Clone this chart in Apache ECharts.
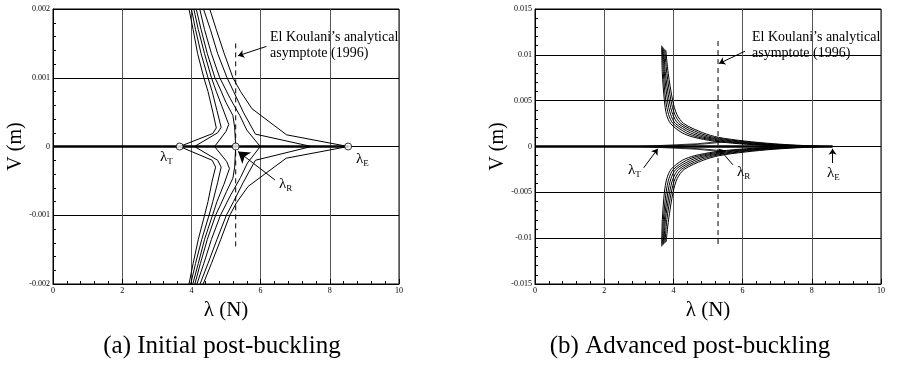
<!DOCTYPE html>
<html>
<head>
<meta charset="utf-8">
<script src="https://cdn.jsdelivr.net/npm/echarts@6/dist/echarts.min.js"></script>
<style>
  html, body { margin: 0; padding: 0; background: #fff; }
  #main { width: 901px; height: 373px; }
</style>
</head>
<body>
<div id="main"></div>
<script>
// tick values
var xTicks = [0, 2, 4, 6, 8, 10];
var leftYRange = [-0.002, 0.002];
var rightYRange = [-0.015, 0.015];

// (a) initial post-buckling, upper branches [lambda, V]
var leftUp1 = [[3.66, 0], [4.62, 0.19e-3], [4.72, 0.27e-3], [4.62, 0.5e-3], [4.48, 0.8e-3], [4.36, 1.0e-3], [4.18, 1.35e-3], [4.05, 1.7e-3], [3.93, 2.0e-3]];
var leftUp2 = [[4.09, 0], [4.76, 0.2e-3], [4.86, 0.28e-3], [4.74, 0.52e-3], [4.6, 0.8e-3], [4.48, 1.0e-3], [4.28, 1.35e-3], [4.12, 1.7e-3], [4.0, 2.0e-3]];
var leftUp3 = [[4.67, 0], [5.0, 0.22e-3], [5.08, 0.32e-3], [4.9, 0.56e-3], [4.72, 0.8e-3], [4.58, 1.0e-3], [4.38, 1.35e-3], [4.2, 1.7e-3], [4.07, 2.0e-3]];
var leftUp4 = [[5.28, 0], [5.25, 0.28e-3], [5.2, 0.45e-3], [5.0, 0.64e-3], [4.82, 0.85e-3], [4.68, 1.0e-3], [4.46, 1.35e-3], [4.28, 1.7e-3], [4.14, 2.0e-3]];
var leftUp5 = [[5.99, 0], [5.6, 0.24e-3], [5.4, 0.45e-3], [5.12, 0.7e-3], [4.82, 1.0e-3], [4.58, 1.35e-3], [4.38, 1.7e-3], [4.24, 2.0e-3]];
var leftUp6 = [[7.47, 0], [5.85, 0.18e-3], [5.5, 0.5e-3], [5.22, 0.8e-3], [5.03, 1.0e-3], [4.76, 1.35e-3], [4.55, 1.7e-3], [4.35, 2.0e-3]];
var leftUp7 = [[8.53, 0], [6.75, 0.17e-3], [5.75, 0.55e-3], [5.42, 0.8e-3], [5.2, 1.0e-3], [4.95, 1.35e-3], [4.72, 1.7e-3], [4.53, 2.0e-3]];
// (a) lower branches
var leftDn1 = [[3.66, 0], [4.6, -0.2e-3], [4.7, -0.3e-3], [4.6, -0.5e-3], [4.48, -0.8e-3], [4.38, -1.0e-3], [4.2, -1.35e-3], [4.05, -1.7e-3], [3.93, -2.0e-3]];
var leftDn2 = [[4.09, 0], [4.76, -0.2e-3], [4.86, -0.3e-3], [4.76, -0.52e-3], [4.62, -0.8e-3], [4.51, -1.0e-3], [4.3, -1.35e-3], [4.12, -1.7e-3], [3.98, -2.0e-3]];
var leftDn3 = [[4.67, 0], [5.02, -0.22e-3], [5.1, -0.32e-3], [4.94, -0.55e-3], [4.74, -0.8e-3], [4.61, -1.0e-3], [4.38, -1.35e-3], [4.2, -1.7e-3], [4.04, -2.0e-3]];
var leftDn4 = [[5.28, 0], [5.25, -0.3e-3], [5.2, -0.46e-3], [5.02, -0.65e-3], [4.84, -0.85e-3], [4.7, -1.0e-3], [4.46, -1.35e-3], [4.26, -1.7e-3], [4.1, -2.0e-3]];
var leftDn5 = [[5.99, 0], [5.62, -0.24e-3], [5.42, -0.45e-3], [5.12, -0.72e-3], [4.84, -1.0e-3], [4.58, -1.35e-3], [4.36, -1.7e-3], [4.16, -2.0e-3]];
var leftDn6 = [[7.47, 0], [5.85, -0.2e-3], [5.5, -0.52e-3], [5.22, -0.8e-3], [5.01, -1.0e-3], [4.74, -1.35e-3], [4.48, -1.7e-3], [4.25, -2.0e-3]];
var leftDn7 = [[8.53, 0], [6.74, -0.17e-3], [5.64, -0.58e-3], [5.3, -0.82e-3], [5.11, -1.0e-3], [4.85, -1.35e-3], [4.58, -1.7e-3], [4.34, -2.0e-3]];
var leftFlat = [[0, 0], [8.55, 0]];
var leftPoints = [[3.66, 0], [5.28, 0], [8.53, 0]];
var leftAsym = [[5.28, 1.5e-3], [5.28, -1.5e-3]];

// (b) advanced post-buckling, upper branches
var rightUp1 = [[3.66, 0.0110], [3.68, 0.008], [3.74, 0.005], [3.80, 0.0035], [3.92, 0.0025], [4.25, 0.0015], [4.6, 0.001], [5.15, 0.0006], [5.9, 0.0003], [6.8, 0.0001], [7.5, 0]];
var rightUp2 = [[3.68, 0.0109], [3.71, 0.008], [3.78, 0.005], [3.86, 0.0035], [3.99, 0.0025], [4.37, 0.0015], [4.74, 0.001], [5.33, 0.0006], [6.1, 0.0003], [7.0, 0.0001], [7.8, 0]];
var rightUp3 = [[3.70, 0.0108], [3.74, 0.008], [3.83, 0.005], [3.92, 0.0035], [4.06, 0.0025], [4.49, 0.0015], [4.88, 0.001], [5.51, 0.0006], [6.3, 0.0003], [7.2, 0.0001], [8.0, 0]];
var rightUp4 = [[3.72, 0.0107], [3.77, 0.008], [3.88, 0.005], [3.98, 0.0035], [4.14, 0.0025], [4.61, 0.0015], [5.02, 0.001], [5.69, 0.0006], [6.5, 0.0003], [7.4, 0.0001], [8.2, 0]];
var rightUp5 = [[3.75, 0.0106], [3.81, 0.008], [3.93, 0.005], [4.04, 0.0035], [4.22, 0.0025], [4.73, 0.0015], [5.16, 0.001], [5.87, 0.0006], [6.7, 0.0003], [7.6, 0.0001], [8.4, 0]];
var rightUp6 = [[3.78, 0.0105], [3.85, 0.008], [3.98, 0.005], [4.10, 0.0035], [4.30, 0.0025], [4.85, 0.0015], [5.3, 0.001], [6.05, 0.0006], [6.9, 0.0003], [7.8, 0.0001], [8.6, 0]];
// (b) lower branches
var rightDn1 = [[3.66, -0.0109], [3.68, -0.008], [3.74, -0.005], [3.81, -0.0035], [3.93, -0.0025], [4.26, -0.0015], [4.62, -0.001], [5.17, -0.0006], [5.9, -0.0003], [6.8, -0.0001], [7.5, 0]];
var rightDn2 = [[3.68, -0.0108], [3.71, -0.008], [3.79, -0.005], [3.87, -0.0035], [4.0, -0.0025], [4.38, -0.0015], [4.76, -0.001], [5.35, -0.0006], [6.1, -0.0003], [7.0, -0.0001], [7.8, 0]];
var rightDn3 = [[3.71, -0.0107], [3.74, -0.008], [3.84, -0.005], [3.93, -0.0035], [4.07, -0.0025], [4.5, -0.0015], [4.9, -0.001], [5.53, -0.0006], [6.3, -0.0003], [7.2, -0.0001], [8.0, 0]];
var rightDn4 = [[3.73, -0.0106], [3.77, -0.008], [3.89, -0.005], [3.99, -0.0035], [4.15, -0.0025], [4.62, -0.0015], [5.04, -0.001], [5.71, -0.0006], [6.5, -0.0003], [7.4, -0.0001], [8.2, 0]];
var rightDn5 = [[3.76, -0.0105], [3.81, -0.008], [3.94, -0.005], [4.05, -0.0035], [4.23, -0.0025], [4.74, -0.0015], [5.18, -0.001], [5.89, -0.0006], [6.7, -0.0003], [7.6, -0.0001], [8.4, 0]];
var rightDn6 = [[3.79, -0.0104], [3.86, -0.008], [3.99, -0.005], [4.11, -0.0035], [4.31, -0.0025], [4.86, -0.0015], [5.32, -0.001], [6.07, -0.0006], [6.9, -0.0003], [7.8, -0.0001], [8.6, 0]];
// short paths leaving the axis before the bundles
var rightLowUp = [[[3.0, 0], [4.7, 0.0003], [5.35, 0.00055]], [[3.66, 0], [4.9, 0.00028], [5.5, 0.0005]]];
var rightLowDn = [[[3.0, 0], [4.7, -0.0003], [5.35, -0.00055]], [[3.66, 0], [4.9, -0.00028], [5.5, -0.0005]]];
var rightFlat = [[0, 0], [8.6, 0]];
var rightAsym = [[5.29, 0.0115], [5.29, -0.011]];

// annotation arrows [from, to]
var leftArrows = [
  { coords: [[6.17, 1.456e-3], [5.35, 1.32e-3]], size: 6 },
  { coords: [[6.41, -0.485e-3], [5.35, -0.073e-3]], size: 11 }
];
var rightArrows = [
  { coords: [[6.07, 0.0104], [5.32, 0.00905]], size: 6 },
  { coords: [[3.14, -0.00233], [3.55, -0.00025]], size: 6 },
  { coords: [[5.72, -0.002], [5.32, -0.00025]], size: 6 },
  { coords: [[8.6, -0.0018], [8.6, -0.00025]], size: 6 }
];

var FONT = 'Liberation Serif';
var chart = echarts.init(document.getElementById('main'), null, { renderer: 'canvas' });

function numLabel(v) {
  if (Math.abs(v) < 1e-12) return '0';
  return String(parseFloat(v.toFixed(4)));
}

function makeX(idx) {
  return {
    gridIndex: idx, type: 'value', min: xTicks[0], max: xTicks[xTicks.length - 1], interval: 2,
    name: 'λ (N)', nameLocation: 'middle', nameGap: 9,
    nameTextStyle: { fontFamily: FONT, fontSize: 21, color: '#000' },
    axisLine: { show: true, onZero: false, lineStyle: { color: '#000', width: 1 } },
    axisTick: { show: true, inside: true, length: 5, lineStyle: { color: '#000' } },
    minorTick: { show: true, splitNumber: 5, length: 3, lineStyle: { color: '#000' } },
    axisLabel: { fontFamily: FONT, fontSize: 8, color: '#000', margin: 3 },
    splitLine: { show: true, lineStyle: { color: '#555', width: 1 } }
  };
}

function makeY(idx, range, step, gap) {
  return {
    gridIndex: idx, type: 'value', min: range[0], max: range[1], interval: step,
    name: 'V (m)', nameLocation: 'middle', nameGap: gap,
    nameTextStyle: { fontFamily: FONT, fontSize: 20, color: '#000' },
    axisLine: { show: true, onZero: false, lineStyle: { color: '#000', width: 1 } },
    axisTick: { show: true, inside: true, length: 5, lineStyle: { color: '#000' } },
    minorTick: { show: true, splitNumber: 5, length: 3, lineStyle: { color: '#000' } },
    axisLabel: { fontFamily: FONT, fontSize: 8, color: '#000', margin: 3, formatter: numLabel },
    splitLine: { show: true, lineStyle: { color: '#000', width: 1 } }
  };
}

function curve(data, idx, w, smooth) {
  return {
    type: 'line', xAxisIndex: idx, yAxisIndex: idx, data: data,
    showSymbol: false, smooth: smooth || false, silent: true,
    lineStyle: { color: '#000', width: w || 1 }, z: 3
  };
}

function arrows(list, idx) {
  return list.map(function (a) {
    return {
      type: 'lines', coordinateSystem: 'cartesian2d', xAxisIndex: idx, yAxisIndex: idx,
      symbol: ['none', 'arrow'], symbolSize: a.size, silent: true, z: 5,
      lineStyle: { color: '#000', width: 1, opacity: 1 },
      data: [{ coords: a.coords }]
    };
  });
}

var series = [];
[leftUp1, leftUp2, leftUp3, leftUp4, leftUp5, leftUp6, leftUp7,
 leftDn1, leftDn2, leftDn3, leftDn4, leftDn5, leftDn6, leftDn7].forEach(function (d) {
  series.push(curve(d, 0, 1));
});
series.push(curve(leftFlat, 0, 2.5));
series.push(Object.assign(curve(leftAsym, 0, 1), { lineStyle: { color: '#000', width: 1, type: [5, 4] } }));
series.push({
  type: 'scatter', xAxisIndex: 0, yAxisIndex: 0, data: leftPoints, symbolSize: 7, silent: true, z: 6,
  itemStyle: { color: '#fff', borderColor: '#000', borderWidth: 1 }
});
series = series.concat(arrows(leftArrows, 0));

[rightUp1, rightUp2, rightUp3, rightUp4, rightUp5, rightUp6,
 rightDn1, rightDn2, rightDn3, rightDn4, rightDn5, rightDn6].forEach(function (d) {
  series.push(curve(d, 1, 1, 0.3));
});
rightLowUp.concat(rightLowDn).forEach(function (d) {
  series.push(curve(d, 1, 0.8));
});
series.push(curve(rightFlat, 1, 2.5));
series.push(Object.assign(curve(rightAsym, 1, 1), { lineStyle: { color: '#000', width: 1, type: [5, 4] } }));
series = series.concat(arrows(rightArrows, 1));

function lam(sub, x, y) {
  return {
    type: 'text', left: x, top: y, z: 10,
    style: {
      text: '{l|λ}{s|' + sub + '}',
      rich: {
        l: { fontFamily: FONT, fontSize: 15, fill: '#000' },
        s: { fontFamily: FONT, fontSize: 9, fill: '#000', padding: [9, 0, 0, 0] }
      }
    }
  };
}

function note(x, y) {
  return {
    type: 'text', left: x, top: y, z: 10,
    style: { text: 'El Koulani’s analytical\nasymptote (1996)', fontFamily: FONT, fontSize: 14, lineHeight: 16, fill: '#000' }
  };
}

function caption(text, cx) {
  return {
    type: 'text', x: cx, y: 346, z: 10,
    style: { text: text, fontFamily: FONT, fontSize: 25, fill: '#000', align: 'center', verticalAlign: 'middle' }
  };
}

var option = {
  animation: false,
  backgroundColor: '#fff',
  grid: [
    { left: 53, top: 9, width: 346, height: 275, show: true, borderColor: '#000', borderWidth: 1 },
    { left: 535, top: 9, width: 346, height: 275, show: true, borderColor: '#000', borderWidth: 1 }
  ],
  xAxis: [makeX(0), makeX(1)],
  yAxis: [makeY(0, leftYRange, 0.001, 25), makeY(1, rightYRange, 0.005, 23)],
  series: series,
  graphic: [
    note(270, 29), note(752, 29),
    lam('T', 160, 150), lam('E', 356, 152), lam('R', 279, 177),
    lam('T', 628, 163), lam('R', 737, 165), lam('E', 827, 166),
    caption('(a) Initial post-buckling', 222),
    caption('(b) Advanced post-buckling', 690)
  ]
};

chart.setOption(option);
</script>
</body>
</html>
